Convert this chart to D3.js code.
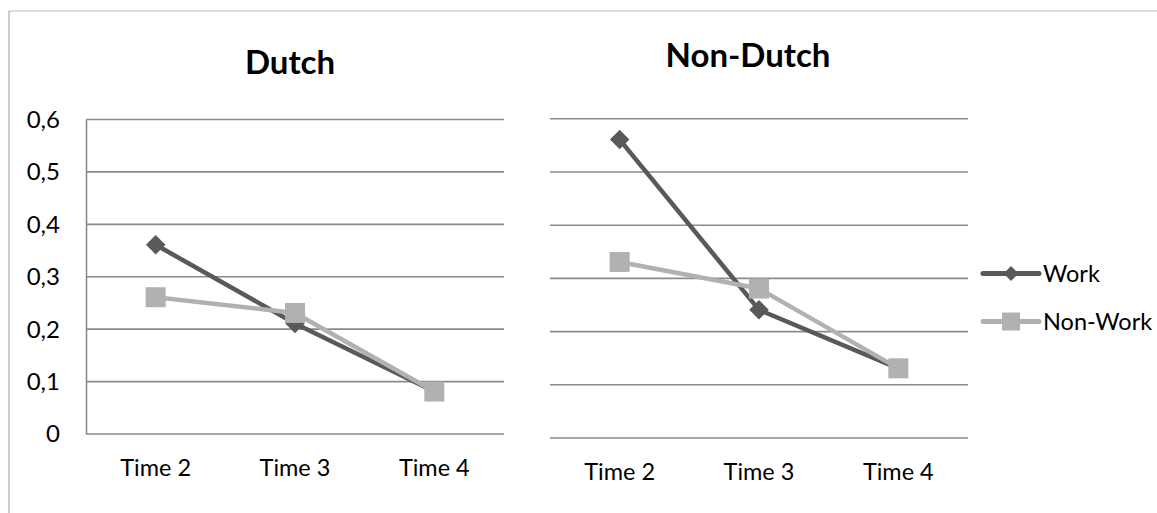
<!DOCTYPE html>
<html>
<head>
<meta charset="utf-8">
<script src="https://cdn.jsdelivr.net/npm/d3@7"></script>
<style>
  html, body { margin: 0; padding: 0; background: #fff; }
  svg { display: block; }
  text { font-family: Lato, "Open Sans", sans-serif; fill: #000; }
</style>
</head>
<body>
<svg id="chart" width="1157" height="513"></svg>
<script>
// Time points shown on both panels
const categories = ["Time 2", "Time 3", "Time 4"];

// Dutch group
const dutchWork    = [0.36, 0.21, 0.08];
const dutchNonWork = [0.26, 0.23, 0.08];

// Non-Dutch group
const nonDutchWork    = [0.56, 0.24, 0.13];
const nonDutchNonWork = [0.33, 0.28, 0.13];

// Value axis
const yTicks      = [0, 0.1, 0.2, 0.3, 0.4, 0.5, 0.6];
const yTickLabels = ["0", "0,1", "0,2", "0,3", "0,4", "0,5", "0,6"];

const seriesNames = ["Work", "Non-Work"];

const WORK_COLOR = "#595959";
const NONWORK_COLOR = "#b1b1b1";
const GRID_COLOR = "#8a8a8a";

const svg = d3.select("#chart");

// frame around the figure
svg.append("line").attr("x1", 9).attr("x2", 1157).attr("y1", 11).attr("y2", 11)
   .attr("stroke", "#d2d2d2").attr("stroke-width", 1.5);
svg.append("line").attr("x1", 9).attr("x2", 9).attr("y1", 11).attr("y2", 513)
   .attr("stroke", "#9a9a9a").attr("stroke-width", 1);

function drawPanel(opts) {
  const x = d3.scaleBand().domain(categories).range([opts.x0, opts.x1]);
  const y = d3.scaleLinear().domain([0, 0.6]).range([opts.yBottom, opts.yTop]);
  const g = svg.append("g");
  const cx = (i) => x(categories[i]) + x.bandwidth() / 2;

  // horizontal gridlines
  const grid = d3.axisLeft(y).tickValues(yTicks).tickSize(-(opts.x1 - opts.x0)).tickFormat("");
  const gg = g.append("g").attr("transform", `translate(${opts.x0},0)`).call(grid);
  gg.select(".domain").remove();
  gg.selectAll(".tick line").attr("stroke", GRID_COLOR).attr("stroke-width", 1.6);

  if (opts.showValueAxis) {
    const ax = d3.axisLeft(y).tickValues(yTicks).tickSize(0).tickPadding(26)
      .tickFormat((d, i) => yTickLabels[i]);
    const ag = g.append("g").attr("transform", `translate(${opts.x0},0)`).call(ax);
    ag.select(".domain").attr("stroke", GRID_COLOR).attr("stroke-width", 1.6);
    ag.selectAll("text").style("font-family", "Lato, 'Open Sans', sans-serif")
      .style("font-size", "24px").attr("fill", "#000").attr("dy", "0.35em");
  }

  // category labels
  const xa = d3.axisBottom(x).tickSize(0).tickPadding(opts.catPad);
  const cg = g.append("g").attr("transform", `translate(0,${opts.yBottom})`).call(xa);
  cg.select(".domain").remove();
  cg.selectAll("text").style("font-family", "Lato, 'Open Sans', sans-serif")
    .style("font-size", "23.5px").attr("fill", "#000");

  // title
  g.append("text").attr("x", opts.titleX).attr("y", opts.titleY)
    .attr("text-anchor", "middle").style("font-size", "33px").style("font-weight", "bold")
    .text(opts.title);

  const line = d3.line().x((d, i) => cx(i)).y(d => y(d));

  // Work series: line with diamond markers
  g.append("path").datum(opts.work).attr("d", line).attr("fill", "none")
    .attr("stroke", WORK_COLOR).attr("stroke-width", 4.5).attr("stroke-linejoin", "round");
  g.selectAll(".wm").data(opts.work).join("path").attr("class", "wm")
    .attr("d", d3.symbol().type(d3.symbolSquare).size(190)())
    .attr("transform", (d, i) => `translate(${cx(i)},${y(d)}) rotate(45)`)
    .attr("fill", WORK_COLOR);

  // Non-Work series: line with square markers
  g.append("path").datum(opts.nonWork).attr("d", line).attr("fill", "none")
    .attr("stroke", NONWORK_COLOR).attr("stroke-width", 4.5).attr("stroke-linejoin", "round");
  g.selectAll(".nm").data(opts.nonWork).join("path").attr("class", "nm")
    .attr("d", d3.symbol().type(d3.symbolSquare).size(400)())
    .attr("transform", (d, i) => `translate(${cx(i)},${y(d)})`)
    .attr("fill", NONWORK_COLOR);
}

drawPanel({
  title: "Dutch", titleX: 290, titleY: 74,
  x0: 86, x1: 504, yTop: 119, yBottom: 433.5,
  catPad: 26, showValueAxis: true,
  work: dutchWork, nonWork: dutchNonWork
});

drawPanel({
  title: "Non-Dutch", titleX: 748, titleY: 67,
  x0: 550, x1: 968, yTop: 118.3, yBottom: 437.5,
  catPad: 26, showValueAxis: false,
  work: nonDutchWork, nonWork: nonDutchNonWork
});

// legend
const legend = svg.append("g");
const legendRows = [
  { name: seriesNames[0], color: WORK_COLOR, y: 273.5, shape: "diamond" },
  { name: seriesNames[1], color: NONWORK_COLOR, y: 321.5, shape: "square" }
];
legendRows.forEach(r => {
  legend.append("line").attr("x1", 983).attr("x2", 1039).attr("y1", r.y).attr("y2", r.y)
    .attr("stroke", r.color).attr("stroke-width", 5).attr("stroke-linecap", "round");
  if (r.shape === "diamond") {
    legend.append("path").attr("d", d3.symbol().type(d3.symbolSquare).size(110)())
      .attr("transform", `translate(1011,${r.y}) rotate(45)`).attr("fill", r.color);
  } else {
    legend.append("path").attr("d", d3.symbol().type(d3.symbolSquare).size(324)())
      .attr("transform", `translate(1011,${r.y})`).attr("fill", r.color);
  }
  legend.append("text").attr("x", 1043).attr("y", r.y).attr("dy", "0.35em")
    .style("font-size", "23.5px").text(r.name);
});
</script>
</body>
</html>
